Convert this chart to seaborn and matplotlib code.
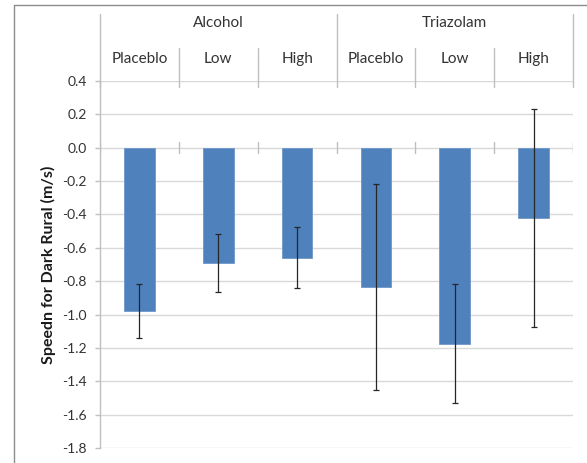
import matplotlib
matplotlib.use("Agg")
import matplotlib.pyplot as plt
from matplotlib.lines import Line2D
import matplotlib.transforms as mtransforms
import seaborn as sns
import pandas as pd

# Data
drugs = ["Alcohol", "Alcohol", "Alcohol", "Triazolam", "Triazolam", "Triazolam"]
doses = ["Placeblo", "Low", "High", "Placeblo", "Low", "High"]
speed_change = [-0.98, -0.69, -0.66, -0.835, -1.175, -0.42]
speed_err = [0.162, 0.174, 0.182, 0.618, 0.358, 0.652]
y_ticks = [0.4, 0.2, 0.0, -0.2, -0.4, -0.6, -0.8, -1.0, -1.2, -1.4, -1.6, -1.8]

df = pd.DataFrame({
    "cond": [f"{d}|{s}" for d, s in zip(drugs, doses)],
    "drug": drugs,
    "dose": doses,
    "speed": speed_change,
    "err": speed_err,
})

sns.set_theme(style="white")
plt.rcParams["font.family"] = ["Lato", "DejaVu Sans"]

W, H = 587, 463
fig = plt.figure(figsize=(W / 100, H / 100), dpi=100)
ax_left, ax_right, ax_top, ax_bot = 100, 573, 81, 448
ax = fig.add_axes([ax_left / W, 1 - ax_bot / H, (ax_right - ax_left) / W, (ax_bot - ax_top) / H])

bar_blue = "#4F81BD"
grid_c = "#d9d9d9"
axis_c = "#bfbfbf"
text_c = "#333333"

sns.barplot(data=df, x="cond", y="speed", order=list(df["cond"]), color=bar_blue,
            saturation=1, width=0.39, errorbar=None, ax=ax, zorder=3)
for p in ax.patches:
    p.set_edgecolor("#6d97c9")
    p.set_linewidth(0.6)

xs = list(range(len(df)))
ax.errorbar(xs, df["speed"], yerr=df["err"], fmt="none", ecolor="#262626",
            elinewidth=0.9, capsize=2.3, capthick=0.9, zorder=4)

ax.set_xlim(-0.5, len(df) - 0.5)
ax.set_ylim(-1.8, 0.4)
ax.set_yticks(y_ticks)
ax.set_yticklabels([f"{v:.1f}" for v in y_ticks], color=text_c, fontsize=10)
ax.set_xticks([])
ax.set_xlabel("")
ax.set_ylabel("Speedn for Dark Rural (m/s)", fontsize=11.5, fontweight="bold",
              color="#1a1a1a")
ax.yaxis.set_label_coords(-0.094, 0.5)

for v in y_ticks:
    ax.axhline(v, color=grid_c, lw=1.0, zorder=1)

for s in ["top", "right", "bottom"]:
    ax.spines[s].set_visible(False)
ax.spines["left"].set_color(axis_c)
ax.spines["left"].set_linewidth(1.0)
ax.tick_params(axis="y", left=True, length=3.5, width=1.0, color=axis_c, pad=6)

# Cross tick marks along the zero line at category boundaries
for b in [i - 0.5 for i in range(len(df) + 1)]:
    ax.plot([b, b], [-0.032, 0.032], color=axis_c, lw=1.0, zorder=2)

# Two-level category header above the plot
def ay(px):
    return 1 + (ax_top - px) / (ax_bot - ax_top)

trans = mtransforms.blended_transform_factory(ax.transData, ax.transAxes)
for b in [-0.5, 2.5, 5.5]:
    ax.add_line(Line2D([b, b], [ay(14), ay(87)], transform=trans, color=axis_c,
                       lw=1.0, clip_on=False))
for b in [0.5, 1.5, 3.5, 4.5]:
    ax.add_line(Line2D([b, b], [ay(48), ay(87)], transform=trans, color=axis_c,
                       lw=1.0, clip_on=False))

for x, d in zip(xs, doses):
    ax.text(x, ay(59), d, transform=trans, ha="center", va="center",
            fontsize=11, color=text_c)
for name, center in [("Alcohol", 1.0), ("Triazolam", 4.0)]:
    ax.text(center, ay(23), name, transform=trans, ha="center", va="center",
            fontsize=11, color=text_c)

# Chart area border
fig.add_artist(Line2D([14 / W, 14 / W], [0, 1 - 5 / H], transform=fig.transFigure,
                      color="#8c8c8c", lw=1.0))
fig.add_artist(Line2D([14 / W, 1], [1 - 5 / H, 1 - 5 / H], transform=fig.transFigure,
                      color="#8c8c8c", lw=1.0))

fig.savefig("out.png", dpi=100)
